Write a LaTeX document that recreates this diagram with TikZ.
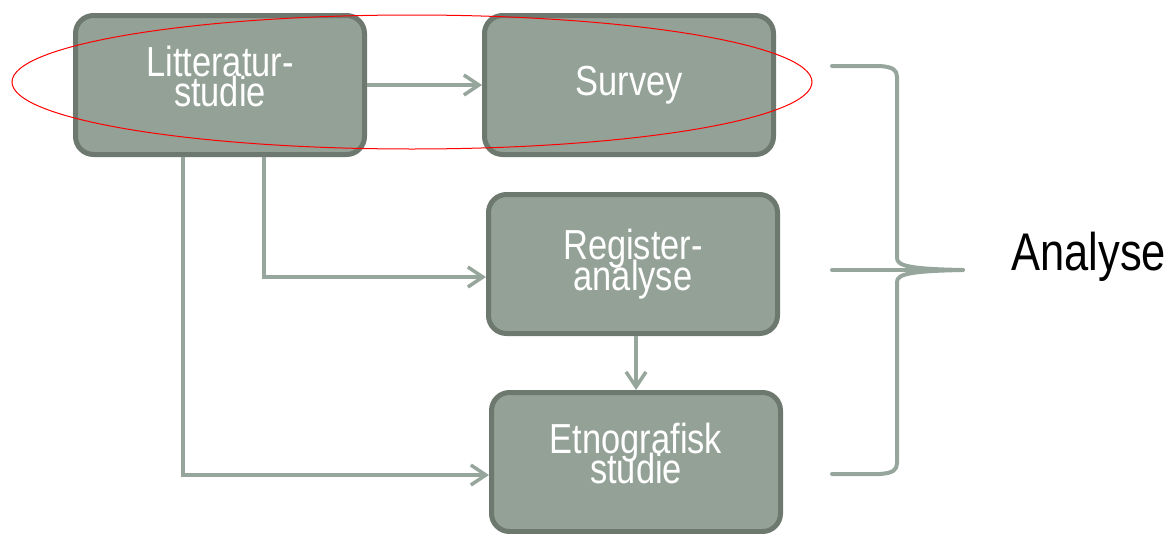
\documentclass[tikz,border=0pt]{standalone}
\usepackage{fontspec}
\usepackage{tikz}
\usetikzlibrary{arrows.meta,positioning,calc}
\setmainfont{Liberation Sans}
\newfontfamily\boxfont[FakeStretch=0.82]{Liberation Sans}
\definecolor{boxfill}{RGB}{147,161,151}
\definecolor{boxline}{RGB}{109,120,111}
\definecolor{linkcol}{RGB}{150,166,156}

\begin{document}
\begin{tikzpicture}[x=1pt,y=-1pt,>={Straight Barb[length=15pt,width=20pt]}]
  \tikzstyle{stage}=[align=center,rectangle,rounded corners=18pt,line width=5pt,draw=boxline,fill=boxfill,minimum width=289pt,minimum height=139pt,inner sep=0pt,text=white,font={\boxfont\fontsize{42}{30.5}\selectfont\lineskiplimit=-60pt}]
  \tikzstyle{link}=[->,draw=linkcol,line width=3.5pt]
  \tikzstyle{brace}=[draw=linkcol,line width=4pt,line cap=round,line join=round]

  \useasboundingbox (0,0) rectangle (1169,533);

  % Study boxes.
  \node [stage,text depth=17pt] (lit) at (220,85) {Litteratur-\\studie};
  \node [stage] (survey) [right=115pt of lit] {Survey};
  \node [stage] (reg) [below=35pt of survey, xshift=4pt] {Register-\\analyse};
  \node [stage,text depth=17pt] (etno) [below=54pt of reg, xshift=3pt] {Etnografisk\\studie};

  % Links between the studies.
  \draw [link] (lit.east) -- (survey.west);
  \draw [link] (lit.south -| 264,0) |- ([yshift=-13pt]reg.west);
  \draw [link] (lit.south -| 183,0) |- ([yshift=-13pt]etno.west);
  \draw [link] (reg.south -| etno.north) -- (etno.north);

  % Brace towards the analysis.
  \coordinate (btop) at (832,66);
  \coordinate (bmid) at (832,270);
  \coordinate (bbot) at (832,474);
  \coordinate (tip) at (963,270);
  \draw [brace] (btop) -- (880,66) .. controls (893,67) and (897,70) .. (897,77)
      -- (897,258) .. controls (897,266) and (910,269) .. (tip)
      .. controls (910,271) and (897,274) .. (897,282)
      -- (897,463) .. controls (897,470) and (893,473) .. (880,474) -- (bbot);
  \draw [brace] (bmid) -- (tip);
  \node [anchor=base west,font={\boxfont\fontsize{53}{60}\selectfont}] (analyse) at (1008,270) {Analyse};

  % Marking of the first row.
  \draw [red,line width=1pt] (412,82) ellipse [x radius=400, y radius=67];
\end{tikzpicture}
\end{document}
